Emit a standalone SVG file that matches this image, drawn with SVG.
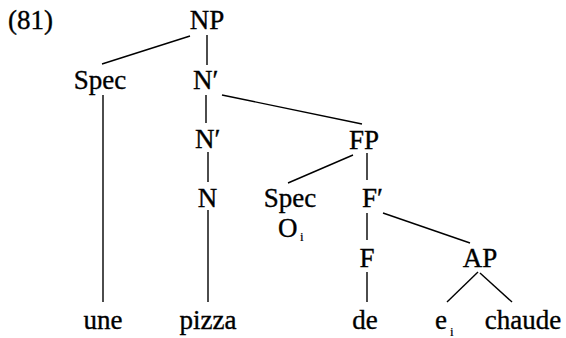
<svg xmlns="http://www.w3.org/2000/svg" width="566" height="338" viewBox="0 0 566 338">
<style>
text{font-family:"Liberation Serif","Times New Roman",serif;font-size:27px;fill:#000;stroke:#000;stroke-width:0.35}
.m{text-anchor:middle}
.sub{font-size:13px;stroke-width:0.2}
#edges line{stroke:#000;stroke-width:1.4}
</style>
<rect width="566" height="338" fill="#fff"/>
<g id="label"><text x="8" y="29">(81)</text></g>
<g id="edges">
<line x1="190" y1="36" x2="102" y2="64"/>
<line x1="207" y1="35" x2="207" y2="65"/>
<line x1="103" y1="95" x2="103" y2="302"/>
<line x1="206" y1="95" x2="206" y2="123"/>
<line x1="222" y1="95" x2="362" y2="124"/>
<line x1="208" y1="152" x2="208" y2="182"/>
<line x1="208" y1="210" x2="208" y2="302"/>
<line x1="353" y1="155" x2="288" y2="183"/>
<line x1="367" y1="153" x2="367" y2="180"/>
<line x1="367" y1="213" x2="367" y2="240"/>
<line x1="383" y1="213" x2="470" y2="243"/>
<line x1="367" y1="272" x2="367" y2="302"/>
<line x1="478" y1="272" x2="447" y2="302"/>
<line x1="480" y1="273" x2="512" y2="302"/>
</g>
<g id="np"><text class="m" x="207" y="29">NP</text></g>
<g id="spec1"><text class="m" x="100" y="89">Spec</text></g>
<g id="nbar1"><text x="193" y="89">N′</text></g>
<g id="nbar2"><text x="195" y="148">N′</text></g>
<g id="n"><text class="m" x="207.5" y="207">N</text></g>
<g id="une"><text class="m" x="103" y="329">une</text></g>
<g id="pizza"><text class="m" x="208" y="329">pizza</text></g>
<g id="fp"><text class="m" x="364" y="149">FP</text></g>
<g id="spec2"><text class="m" x="290" y="207">Spec</text><text x="278" y="237">O</text><text class="sub" x="300" y="241">i</text></g>
<g id="fbar"><text x="362" y="207">F′</text></g>
<g id="f"><text class="m" x="367" y="267">F</text></g>
<g id="ap"><text class="m" x="480" y="267">AP</text></g>
<g id="de"><text class="m" x="365" y="329">de</text></g>
<g id="e"><text x="435" y="329">e</text><text class="sub" x="450" y="336">i</text></g>
<g id="chaude"><text class="m" x="523" y="329">chaude</text></g>
</svg>
